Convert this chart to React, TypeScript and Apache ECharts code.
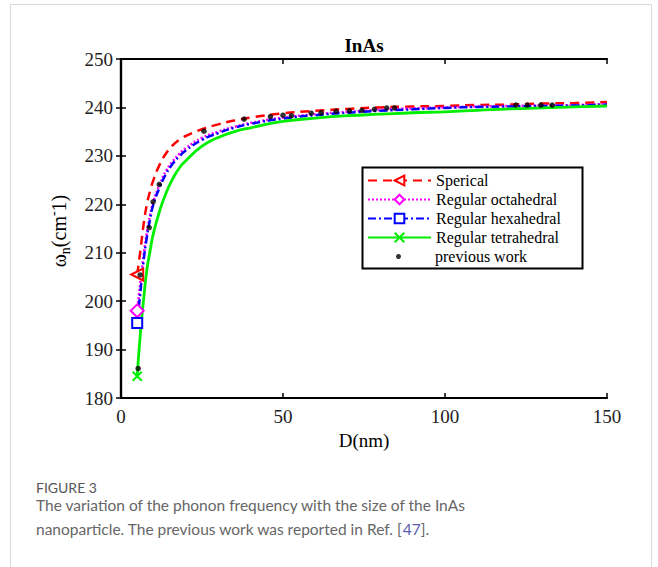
import React, { useEffect, useRef } from "react";
import * as echarts from "echarts";

// Particle size D (nm) at which model curves were read
const D = [5, 6, 7, 8, 9, 10, 12, 14, 16, 18, 20, 25, 30, 35, 40, 50, 60, 70, 80, 90, 100, 110, 120, 130, 140, 150];
const spherical = [205.5, 210.5, 216, 220, 222.8, 225, 228.3, 230.6, 232.2, 233.3, 234.1, 235.5, 236.5, 237.3, 237.9, 238.8, 239.3, 239.7, 240.0, 240.2, 240.3, 240.5, 240.6, 240.8, 240.9, 241.1];
const octahedral = [198, 204, 209.5, 214.2, 217.8, 220.6, 224.2, 227, 228.9, 230.4, 231.6, 233.7, 235, 236, 236.8, 237.9, 238.6, 239.1, 239.5, 239.8, 240, 240.2, 240.3, 240.4, 240.5, 240.7];
const hexahedral = [195.5, 202, 208.5, 213.3, 217, 220, 223.6, 226.4, 228.4, 229.9, 231.1, 233.3, 234.7, 235.8, 236.6, 237.7, 238.4, 238.9, 239.3, 239.6, 239.9, 240.1, 240.2, 240.3, 240.4, 240.6];
const tetrahedral = [184.5, 193.5, 200.5, 206.5, 210.5, 214, 218.8, 222.5, 225.3, 227.5, 229, 232, 233.8, 235, 235.8, 237.1, 237.8, 238.3, 238.6, 238.9, 239.1, 239.4, 239.7, 239.9, 240.1, 240.3];

// Previous work (Ref. [47])
const prevD = [5.3, 5.9, 8.7, 9.9, 11.8, 25.6, 38, 46.1, 50, 52.6, 58.7, 61.8, 66.4, 70.5, 74.4, 78.2, 82, 84.4, 121.9, 125.4, 129.6, 133.1];
const prevW = [186.1, 205.4, 215.2, 220.5, 224.1, 235.1, 237.6, 238.1, 238.4, 238.3, 238.8, 238.9, 239.2, 239.3, 239.4, 239.6, 239.9, 239.9, 240.5, 240.5, 240.5, 240.5];

const seriesNames = ["Sperical", "Regular octahedral", "Regular hexahedral", "Regular tetrahedral", "previous work"];

const SERIF = '"Liberation Serif", "Times New Roman", serif';
const SANS = 'Lato, "Open Sans", sans-serif';

export default function App() {
  const ref = useRef<HTMLDivElement>(null);
  useEffect(() => {
    if (!ref.current) return;
    const chart = echarts.init(ref.current, null, { renderer: "svg" });
    const pair = (ys: number[]) => D.map((d, i) => [d, ys[i]]);
    const firstOnly = (size: number) => (_v: any, p: any) => (p.dataIndex === 0 ? size : 0);

    const axisLineStyle = { show: true, lineStyle: { color: "#000", width: 2.2 } };
    const tick = { show: true, inside: true, length: 5, lineStyle: { color: "#000", width: 1.5 } };
    const labelStyle = { fontFamily: SERIF, fontSize: 19, color: "#222" };
    const legendText = { fontFamily: SERIF, fontSize: 16, color: "#000", lineHeight: 19 };

    chart.setOption({
      animation: false,
      backgroundColor: "#fff",
      grid: { left: 121, right: 51, top: 59, bottom: 169, containLabel: false },
      xAxis: [
        {
          type: "value",
          min: 0,
          max: 150,
          interval: 50,
          position: "bottom",
          axisLine: axisLineStyle,
          axisTick: tick,
          splitLine: { show: false },
          axisLabel: { ...labelStyle, margin: 9 },
          name: "D(nm)",
          nameLocation: "middle",
          nameGap: 33,
          nameTextStyle: { fontFamily: SERIF, fontSize: 19, color: "#000" },
        },
        {
          type: "value",
          min: 0,
          max: 150,
          interval: 50,
          position: "top",
          axisLine: axisLineStyle,
          axisTick: tick,
          splitLine: { show: false },
          axisLabel: { show: false },
        },
      ],
      yAxis: [
        {
          type: "value",
          min: 180,
          max: 250,
          interval: 10,
          position: "left",
          axisLine: axisLineStyle,
          axisTick: tick,
          splitLine: { show: false },
          axisLabel: { ...labelStyle, margin: 8 },
        },
        {
          type: "value",
          min: 180,
          max: 250,
          interval: 10,
          position: "right",
          axisLine: axisLineStyle,
          axisTick: tick,
          splitLine: { show: false },
          axisLabel: { show: false },
        },
      ],
      legend: [
        {
          data: seriesNames.slice(0, 4),
          orient: "vertical",
          left: 362,
          top: 166,
          padding: 5,
          itemWidth: 63,
          itemHeight: 12,
          itemGap: 0,
          selectedMode: false,
          textStyle: legendText,
        },
        {
          data: [seriesNames[4]],
          orient: "vertical",
          left: 391,
          top: 242,
          padding: 5,
          itemWidth: 63,
          itemHeight: 5,
          itemGap: 0,
          selectedMode: false,
          textStyle: legendText,
        },
      ],
      graphic: [
        {
          type: "rect",
          z: -10,
          silent: true,
          shape: { x: 10.5, y: 4.5, width: 641, height: 620 },
          style: { fill: "#fff", stroke: "#d9d9d9", lineWidth: 1 },
        },
        {
          type: "rect",
          z: 3,
          silent: true,
          shape: { x: 362.5, y: 167.5, width: 220, height: 101 },
          style: { fill: "#fff", stroke: "#000", lineWidth: 2 },
        },
        {
          type: "text",
          x: 364,
          y: 45,
          silent: true,
          style: {
            text: "InAs",
            fontFamily: SERIF,
            fontSize: 19,
            fontWeight: "bold",
            fill: "#000",
            align: "center",
            verticalAlign: "middle",
          },
        },
        {
          type: "text",
          x: 59,
          y: 231,
          rotation: Math.PI / 2,
          silent: true,
          style: {
            text: "{a|ω}{s|n}{a|(cm}{p|-}{a|1)}",
            align: "center",
            verticalAlign: "middle",
            rich: {
              a: { fontFamily: SERIF, fontSize: 20, fill: "#000", lineHeight: 26, verticalAlign: "middle" },
              s: { fontFamily: SERIF, fontSize: 14, fill: "#000", lineHeight: 26, verticalAlign: "bottom" },
              p: { fontFamily: SERIF, fontSize: 14, fill: "#000", lineHeight: 26, verticalAlign: "top" },
            },
          },
        },
        {
          type: "text",
          x: 36,
          y: 487.5,
          silent: true,
          style: {
            text: "FIGURE 3",
            fontFamily: SANS,
            fontSize: 14,
            fill: "#555",
            align: "left",
            verticalAlign: "middle",
          },
        },
        {
          type: "text",
          x: 36,
          y: 505,
          silent: true,
          style: {
            text: "The variation of the phonon frequency with the size of the InAs",
            fontFamily: SANS,
            fontSize: 15.5,
            fill: "#666",
            align: "left",
            verticalAlign: "middle",
          },
        },
        {
          type: "text",
          x: 36,
          y: 529,
          silent: true,
          style: {
            text: "{t|nanoparticle. The previous work was reported in Ref. [}{l|47}{t|].}",
            align: "left",
            verticalAlign: "middle",
            rich: {
              t: { fontFamily: SANS, fontSize: 15.5, fill: "#666" },
              l: { fontFamily: SANS, fontSize: 15.5, fill: "#5a5ab0" },
            },
          },
        },
      ],
      series: [
        {
          name: seriesNames[0],
          type: "line",
          data: pair(spherical),
          smooth: true,
          showSymbol: true,
          symbol: "emptyTriangle",
          symbolRotate: 90,
          symbolSize: firstOnly(12),
          lineStyle: { color: "#ff0000", width: 2.5, type: [9, 6] },
          itemStyle: { color: "#ff0000" },
          z: 2,
        },
        {
          name: seriesNames[1],
          type: "line",
          data: pair(octahedral),
          smooth: true,
          showSymbol: true,
          symbol: "emptyDiamond",
          symbolSize: firstOnly(13),
          lineStyle: { color: "#ff00ff", width: 2.5, type: [2, 2] },
          itemStyle: { color: "#ff00ff" },
          z: 2,
        },
        {
          name: seriesNames[2],
          type: "line",
          data: pair(hexahedral),
          smooth: true,
          showSymbol: true,
          symbol: "emptyRect",
          symbolSize: firstOnly(10),
          lineStyle: { color: "#0000ff", width: 2.5, type: [8, 3, 2, 3] },
          itemStyle: { color: "#0000ff" },
          z: 2,
        },
        {
          name: seriesNames[3],
          type: "line",
          data: pair(tetrahedral),
          smooth: true,
          showSymbol: true,
          symbol: "path://M0,0L10,10M10,0L0,10",
          symbolSize: firstOnly(9),
          lineStyle: { color: "#00ee00", width: 2.8 },
          itemStyle: { color: "#00ee00", borderColor: "#00ee00", borderWidth: 2 },
          z: 2,
        },
        {
          name: seriesNames[4],
          type: "scatter",
          data: prevD.map((d, i) => [d, prevW[i]]),
          symbol: "circle",
          symbolSize: 5.5,
          itemStyle: { color: "#000" },
          z: 3,
        },
      ],
    });
    return () => chart.dispose();
  }, []);
  return (
    <div
      ref={ref}
      style={{ position: "absolute", left: 0, top: 0, width: 658, height: 567, background: "#fff" }}
    />
  );
}
